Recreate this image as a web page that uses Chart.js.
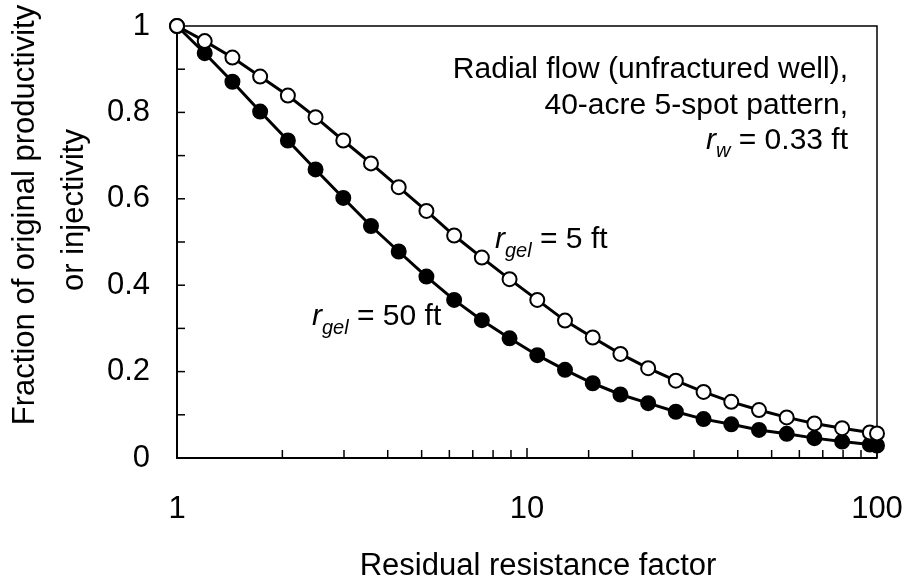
<!DOCTYPE html>
<html>
<head>
<meta charset="utf-8">
<title>Fraction of original productivity vs residual resistance factor</title>
<script src="https://cdn.jsdelivr.net/npm/chart.js@4.4.1/dist/chart.umd.min.js"></script>
<style>
  html, body { margin: 0; padding: 0; background: #fff; }
  #wrap { width: 909px; height: 585px; }
</style>
</head>
<body>
<div id="wrap"><canvas id="chart" width="909" height="585"></canvas></div>
<script>
// Residual resistance factor (log x axis), one point per marker.
var rrfValues = [1, 1.2, 1.44, 1.728, 2.074, 2.488, 2.986, 3.583, 4.300, 5.160,
  6.192, 7.430, 8.916, 10.70, 12.84, 15.41, 18.49, 22.19, 26.62, 31.95,
  38.34, 46.01, 55.21, 66.25, 79.50, 95.40, 100];

// Fraction of original productivity, gel radius 5 ft (open circles).
var fracGel5 = [1.0, 0.965, 0.927, 0.883, 0.839, 0.789, 0.735, 0.682, 0.627, 0.572,
  0.515, 0.464, 0.414, 0.366, 0.318, 0.279, 0.241, 0.208, 0.179, 0.153,
  0.130, 0.111, 0.094, 0.080, 0.069, 0.059, 0.057];

// Fraction of original productivity, gel radius 50 ft (filled circles).
var fracGel50 = [1.0, 0.937, 0.871, 0.802, 0.735, 0.668, 0.602, 0.537, 0.478, 0.420,
  0.366, 0.319, 0.277, 0.238, 0.204, 0.173, 0.147, 0.127, 0.107, 0.090,
  0.078, 0.065, 0.056, 0.046, 0.038, 0.031, 0.029];

var xTickLabels = [1, 10, 100];
var yTickLabels = [0, 0.2, 0.4, 0.6, 0.8, 1];

var FONT = "'Liberation Sans', Arial, sans-serif";

function toPoints(ys) {
  return rrfValues.map(function (x, i) { return { x: x, y: ys[i] }; });
}

// Draw a run of text pieces (italic / subscript) starting at x, baseline y.
function drawRich(ctx, parts, x, y, align) {
  var total = 0;
  parts.forEach(function (p) {
    ctx.font = (p.italic ? "italic " : "") + p.size + "px " + FONT;
    p.w = ctx.measureText(p.t).width;
    total += p.w;
  });
  var cx = align === "right" ? x - total : x;
  parts.forEach(function (p) {
    ctx.font = (p.italic ? "italic " : "") + p.size + "px " + FONT;
    ctx.fillText(p.t, cx, y + (p.dy || 0));
    cx += p.w;
  });
}

// Labels may overhang the plot edges; don't let them shrink the plot area.
function noOverhang(s) {
  s.paddingLeft = 0;
  s.paddingRight = 0;
  s.paddingTop = 0;
  s.paddingBottom = 0;
}

var framePlugin = {
  id: "frame",
  beforeDatasetsDraw: function (chart) {
    var ctx = chart.ctx, a = chart.chartArea;
    var xs = chart.scales.x, ys = chart.scales.y;
    ctx.save();
    ctx.strokeStyle = "#000";
    ctx.lineWidth = 1.5;
    ctx.strokeRect(a.left, a.top, a.right - a.left, a.bottom - a.top);

    // tick marks point inward
    ys.ticks.forEach(function (t) {
      var py = ys.getPixelForValue(t.value);
      ctx.beginPath();
      ctx.moveTo(a.left, py);
      ctx.lineTo(a.left + 8, py);
      ctx.stroke();
    });
    xs.ticks.forEach(function (t) {
      var px = xs.getPixelForValue(t.value);
      var major = Math.abs(Math.log10(t.value) - Math.round(Math.log10(t.value))) < 1e-9;
      ctx.beginPath();
      ctx.moveTo(px, a.bottom);
      ctx.lineTo(px, a.bottom - (major ? 10 : 8));
      ctx.stroke();
    });

    // heavier left and bottom axes
    ctx.lineWidth = 2;
    ctx.beginPath();
    ctx.moveTo(a.left, a.top);
    ctx.lineTo(a.left, a.bottom);
    ctx.lineTo(a.right, a.bottom);
    ctx.stroke();
    ctx.restore();
  },
  afterDraw: function (chart) {
    var ctx = chart.ctx;
    ctx.save();
    ctx.fillStyle = "#000";
    ctx.textBaseline = "alphabetic";

    // axis titles
    ctx.font = "31px " + FONT;
    ctx.textAlign = "center";
    ctx.fillText("Residual resistance factor", 538, 575);
    ctx.save();
    ctx.translate(34, 215);
    ctx.rotate(-Math.PI / 2);
    ctx.fillText("Fraction of original productivity", 0, 0);
    ctx.restore();
    ctx.save();
    ctx.translate(83, 210);
    ctx.rotate(-Math.PI / 2);
    ctx.fillText("or injectivity", 0, 0);
    ctx.restore();

    // annotations
    ctx.textAlign = "left";
    drawRich(ctx, [{ t: "Radial flow (unfractured well),", size: 30 }], 848, 78, "right");
    drawRich(ctx, [{ t: "40-acre 5-spot pattern,", size: 30 }], 848, 113.5, "right");
    drawRich(ctx, [
      { t: "r", size: 30, italic: true },
      { t: "w", size: 20, italic: true, dy: 8 },
      { t: " = 0.33 ft", size: 30 }
    ], 848, 149, "right");
    drawRich(ctx, [
      { t: "r", size: 30, italic: true },
      { t: "gel", size: 20, italic: true, dy: 9 },
      { t: " = 5 ft", size: 30 }
    ], 495, 248, "left");
    drawRich(ctx, [
      { t: "r", size: 30, italic: true },
      { t: "gel", size: 20, italic: true, dy: 9 },
      { t: " = 50 ft", size: 30 }
    ], 312, 325, "left");
    ctx.restore();
  }
};

var ctx = document.getElementById("chart").getContext("2d");
var chart = new Chart(ctx, {
  type: "line",
  data: {
    datasets: [
      {
        label: "rgel = 5 ft",
        data: toPoints(fracGel5),
        borderColor: "#000",
        borderWidth: 3,
        pointRadius: 7,
        pointBorderWidth: 2,
        pointBorderColor: "#000",
        pointBackgroundColor: "#fff",
        tension: 0,
        clip: false,
      },
      {
        label: "rgel = 50 ft",
        data: toPoints(fracGel50),
        borderColor: "#000",
        borderWidth: 3,
        pointRadius: 7,
        pointBorderWidth: 2,
        pointBorderColor: "#000",
        pointBackgroundColor: "#000",
        tension: 0,
        clip: false,
      },
    ],
  },
  options: {
    responsive: false,
    devicePixelRatio: 1,
    animation: false,
    events: [],
    layout: { padding: { left: 0, top: 26, right: 32, bottom: 0 } },
    plugins: { legend: { display: false }, tooltip: { enabled: false } },
    scales: {
      x: {
        type: "logarithmic",
        min: 1,
        max: 100,
        grid: { display: false, drawTicks: false },
        border: { display: false },
        ticks: {
          autoSkip: false,
          maxRotation: 0,
          padding: 33,
          color: "#000",
          font: { family: FONT, size: 31 },
          callback: function (v) {
            return xTickLabels.indexOf(v) >= 0 ? String(v) : "";
          },
        },
        afterFit: function (s) { s.height = 127; noOverhang(s); },
      },
      y: {
        min: 0,
        max: 1,
        grid: { display: false, drawTicks: false },
        border: { display: false },
        ticks: {
          stepSize: 0.1,
          autoSkip: false,
          padding: 27,
          color: "#000",
          font: { family: FONT, size: 31 },
          callback: function (v) {
            var r = Math.round(v * 10) / 10;
            return yTickLabels.indexOf(r) >= 0 ? String(r) : "";
          },
        },
        afterFit: function (s) { s.width = 177; noOverhang(s); },
      },
    },
  },
  plugins: [framePlugin],
});
</script>
</body>
</html>
